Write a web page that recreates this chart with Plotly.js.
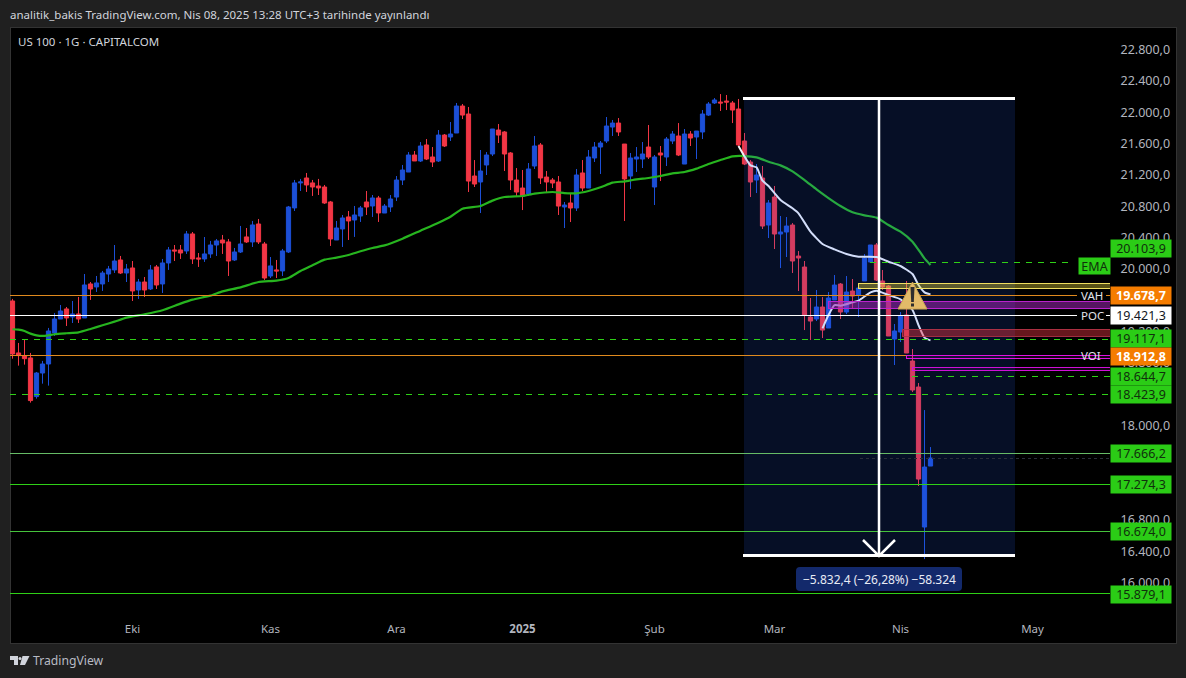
<!DOCTYPE html>
<html><head><meta charset="utf-8">
<script src="https://cdn.plot.ly/plotly-3.0.1.min.js"></script>
<style>html,body{margin:0;padding:0;background:#202020;overflow:hidden}#c{width:1186px;height:678px}</style>
</head><body><div id="c"></div>
<script>
// Daily candles (one entry per trading bar)
const opens=[19611,18948,18914,18884,18391,18692,18807,19203,19381,19509,19407,19445,19394,19828,19790,19828,19955,20007,20134,19968,20032,19751,19853,19764,20045,19828,20096,20262,20262,20249,20466,20160,20147,20211,20325,20389,20364,20134,20236,20428,20364,20593,20338,19930,20007,19994,20236,20798,21117,21180,21117,21078,21065,20874,20389,20530,20683,20644,20695,20874,20823,20925,
20733,20810,20937,21154,21256,21473,21397,21601,21448,21397,21728,21703,21754,22098,21996,21205,21129,21346,21486,21792,21767,21499,21154,21052,20976,21333,21601,21192,21154,21129,20810,20861,20797,21244,21052,21435,21575,21652,21830,21881,21613,21205,21422,21422,21575,21065,21499,21448,21652,21716,21358,21741,21703,21767,21983,22137,22149,22162,22137,22060,
21652,21384,21154,21180,20580,20937,20465,20491,20580,20184,20044,19406,19381,19534,19266,19623,19827,19470,19738,19687,19866,20108,20325,19866,19802,19125,19215,19432,18845,18513,16727,17505];
const highs=[19637,19075,19113,18948,18705,18846,19267,19458,19560,19534,19611,19662,19955,19853,19930,19994,20058,20325,20185,20083,20121,19892,19917,20070,20070,20147,20300,20325,20325,20504,20491,20223,20427,20377,20402,20453,20402,20287,20568,20542,20632,20657,20364,20172,20134,20275,20823,21155,21168,21244,21155,21168,21091,20887,20632,20708,20759,20823,20823,21014,20963,20951,
20848,20963,21205,21346,21511,21524,21639,21677,21575,21792,21741,21894,22137,22124,22086,21409,21537,21511,21805,21869,21779,21511,21307,21282,21371,21716,21626,21269,21180,21205,20874,20988,21295,21409,21537,21639,21652,21958,21920,21945,21613,21499,21575,21639,21856,21473,21588,21703,21779,21881,21805,21779,21779,22047,22149,22200,22251,22239,22162,22188,
21754,21409,21358,21333,20899,21078,20695,20682,20605,20248,20121,19649,19751,19661,19725,19942,19840,19929,19891,19814,20210,20325,20350,20006,19814,19317,19470,19866,18998,18564,18219,17747];
const lows=[18875,18786,18799,18314,18365,18556,18531,19165,19381,19292,19330,19330,19394,19624,19726,19739,19853,19968,19955,19853,19611,19637,19662,19751,19764,19713,20007,20121,20147,20211,20083,20045,20109,20160,20185,20211,19930,20121,20223,20351,20300,20338,19879,19904,19904,19930,20223,20759,21014,21002,20951,20963,20849,20313,20389,20300,20389,20428,20619,20708,20683,20619,
20733,20746,20886,21090,21256,21397,21384,21409,21320,21384,21575,21652,21754,21932,21001,21065,20733,21218,21460,21626,21269,21027,20950,20771,20950,21295,21103,20988,21052,20708,20542,20618,20759,21014,21052,21384,21231,21626,21716,21716,20631,21039,21256,21307,21422,20835,21141,21333,21613,21460,21358,21588,21422,21677,21971,22124,22035,22047,21881,21588,
21345,20937,20988,20529,20414,20274,20031,20172,19968,19738,19240,19113,19355,19138,19266,19623,19381,19444,19521,19406,19866,20108,19866,19751,19164,18794,19087,18947,18449,17250,16318,17505];
const closes=[18935,18914,18875,18340,18692,18807,19228,19381,19483,19394,19445,19381,19815,19764,19841,19968,20019,20121,19968,20019,19739,19853,19751,20007,19815,20096,20262,20249,20223,20466,20147,20147,20211,20325,20377,20351,20121,20236,20338,20364,20581,20364,19904,20058,19994,20249,20810,21117,21129,21091,21065,21053,20861,20402,20542,20670,20632,20708,20798,20810,20925,20734,
20822,20912,21154,21282,21473,21397,21588,21422,21384,21728,21588,21741,22098,21983,21141,21103,21269,21473,21805,21728,21486,21154,21001,20950,21295,21588,21180,21129,21116,20822,20835,20797,21218,21052,21448,21575,21626,21843,21881,21767,21167,21435,21448,21486,21448,21448,21473,21677,21741,21473,21741,21690,21779,21996,22124,22175,22137,22149,22047,21601,
21358,21129,21218,20567,20861,20465,20491,20567,20121,20159,19432,19355,19534,19240,19649,19814,19470,19725,19674,19776,20159,20325,19878,19789,19164,19228,19419,18947,18475,17339,17492,17607];

// Green moving average and the two white curves
const emaX=[0,1,2,3,4,5,6,7,9,11,13,15,17,19,22,25,28,30,33,35,38,41,44,46,48,50,52,54,56,58,60,62,65,68,71,73,75,78,80,82,85,87,90,92,94,96,98,100,102,104,106,108,110,112,114,116,118,120,122,124,126,128,130,132,134,136,138,140,142,144,146,148,150,152,153];
const emaY=[19250,19245,19228,19194,19173,19165,19173,19186,19199,19211,19254,19301,19347,19398,19441,19492,19577,19628,19679,19734,19785,19853,19870,19904,19994,20066,20138,20164,20198,20245,20287,20320,20406,20508,20610,20686,20788,20822,20891,20937,20950,20980,21001,20988,20984,21014,21061,21120,21137,21163,21180,21205,21239,21256,21299,21358,21409,21456,21460,21443,21388,21341,21265,21154,21035,20924,20822,20742,20703,20674,20580,20495,20367,20155,20070];
const upperX=[121,123,124,125,126,128,130,131,133,135,137,139,141,144,146,148,150,151,152,153];
const upperY=[21588,21341,21316,21146,21078,20899,20793,20729,20495,20338,20270,20210,20176,20172,20112,20057,19955,19814,19721,19695];
const lowerX=[135,136,137,138,140,141,143,144,146,148,150,151,152,153];
const lowerY=[19262,19432,19559,19551,19593,19615,19721,19742,19687,19632,19496,19304,19143,19109];

// Axes
const priceTicks=[22800,22400,22000,21600,21200,20800,20400,20000,19200,18800,18000,16800,16400,16000];
const priceTickText=["22.800,0","22.400,0","22.000,0","21.600,0","21.200,0","20.800,0","20.400,0","20.000,0","19.200,0","18.800,0","18.000,0","16.800,0","16.400,0","16.000,0"];
const monthBars=[20,43,64,85,107,127,148,170];
const monthLabels=["Eki","Kas","Ara","<b>2025</b>","Şub","Mar","Nis","May"];

// Horizontal levels and their axis labels
const levelPrices=[20103.9,19678.7,19421.3,19117.1,18912.8,18644.7,18423.9,17666.2,17274.3,16674.0,15879.1];
const levelTexts=["20.103,9","19.678,7","19.421,3","19.117,1","18.912,8","18.644,7","18.423,9","17.666,2","17.274,3","16.674,0","15.879,1"];
const zones={yellow:[19764,19840],purple:[19521,19610],red:[19164,19253],mag1:[18877,18915],mag2:[18730,18768]};
const measureTop=22190, measureBottom=16358, lastPrice=17607;

const F='"Noto Sans", sans-serif';
const W=1186,H=678,L=10,R=76,T=27,B=63,PW=W-L-R,PH=H-T-B;
const pxToBar=p=>(p-12.5)/6;
const pxToPrice=y=>16000+(584-y)/0.07838;
const xp=p=>(p-L)/PW, yp=y=>(T+PH-y)/PH;
const idx=opens.map((_,i)=>i);
const RED='#f23645',BLUE='#1c4fd6',GREEN='#2fd017',ORANGE='#e08a1e';

const hline=(price,x0px,x1px,color,width,dash)=>({type:'line',layer:'above',xref:'x',yref:'y',x0:pxToBar(x0px),x1:pxToBar(x1px),y0:price,y1:price,line:{color,width,dash:dash||'solid'}});
const zone=(r,x0px,line,fill,lw)=>({type:'rect',layer:'above',xref:'x',yref:'y',x0:pxToBar(x0px),x1:pxToBar(1110),y0:r[0],y1:r[1],fillcolor:fill,line:{color:line,width:lw||1}});
const rr=(x0,y0,x1,y1,r)=>`M ${xp(x0+r)} ${yp(y0)} L ${xp(x1-r)} ${yp(y0)} Q ${xp(x1)} ${yp(y0)} ${xp(x1)} ${yp(y0+r)} L ${xp(x1)} ${yp(y1-r)} Q ${xp(x1)} ${yp(y1)} ${xp(x1-r)} ${yp(y1)} L ${xp(x0+r)} ${yp(y1)} Q ${xp(x0)} ${yp(y1)} ${xp(x0)} ${yp(y1-r)} L ${xp(x0)} ${yp(y0+r)} Q ${xp(x0)} ${yp(y0)} ${xp(x0+r)} ${yp(y0)} Z`;

const shapes=[
 {type:'rect',layer:'below',xref:'paper',yref:'paper',x0:xp(10),x1:xp(1176),y0:yp(643),y1:yp(27),fillcolor:'#000',line:{color:'#333',width:1}},
 {type:'rect',layer:'above',xref:'x',yref:'y',x0:pxToBar(743.5),x1:pxToBar(1015),y0:measureBottom,y1:measureTop,fillcolor:'rgba(41,98,255,0.15)',line:{width:0}},
 hline(levelPrices[0],870,1073,GREEN,1,'6px,6px'),
 hline(levelPrices[1],10,1077,ORANGE,1),hline(levelPrices[1],1106,1110,ORANGE,1),
 hline(levelPrices[2],10,1077,'#ffffff',1),hline(levelPrices[2],1106,1110,'#ffffff',1),
 hline(levelPrices[3],10,1110,GREEN,1,'6px,6px'),
 hline(levelPrices[4],10,1110,ORANGE,1),
 hline(levelPrices[5],912,1110,GREEN,1,'6px,6px'),
 hline(levelPrices[6],10,1110,GREEN,1,'6px,6px'),
 hline(levelPrices[7],10,1110,'#66bb66',1),
 hline(levelPrices[8],10,1110,GREEN,1),
 hline(levelPrices[9],10,1110,'#46c23c',1),
 hline(levelPrices[10],10,1110,GREEN,1),
 hline(lastPrice,860,1110,'#2a2e39',1,'dot'),
 zone(zones.yellow,858,'#f0e060','rgba(255,235,59,0.35)'),
 zone(zones.purple,828,'#bb22cc','rgba(156,39,176,0.55)'),
 zone(zones.red,902,'rgba(178,50,70,0.9)','rgba(242,54,69,0.42)'),
 zone(zones.mag1,906,'#e012e0','rgba(156,39,176,0.1)'),
 zone(zones.mag2,912,'#d010d8','rgba(156,39,176,0.1)'),
 hline(measureTop,743,1015,'#ffffff',3),
 hline(measureBottom,743,1015,'#ffffff',3),
 {type:'line',layer:'above',xref:'x',yref:'y',x0:pxToBar(879),x1:pxToBar(879),y0:measureBottom,y1:measureTop,line:{color:'#fff',width:2.5}},
 {type:'path',layer:'above',xref:'x',yref:'y',path:`M ${pxToBar(863)} ${pxToPrice(540)} L ${pxToBar(879)} ${pxToPrice(556)} L ${pxToBar(895)} ${pxToPrice(540)}`,line:{color:'#fff',width:2.5}},
 {type:'path',layer:'above',xref:'x',yref:'y',path:`M ${pxToBar(912.5)} ${pxToPrice(282)} L ${pxToBar(927)} ${pxToPrice(309)} L ${pxToBar(898)} ${pxToPrice(309)} Z`,fillcolor:'#e3bb69',line:{color:'#c9a356',width:1}},
 {type:'path',layer:'above',xref:'x',yref:'y',path:`M ${pxToBar(910.5)} ${pxToPrice(287)} L ${pxToBar(914.5)} ${pxToPrice(287)} L ${pxToBar(913.8)} ${pxToPrice(302)} L ${pxToBar(911.2)} ${pxToPrice(302)} Z`,fillcolor:'#2e2e2e',line:{width:0}},
 {type:'path',layer:'above',xref:'x',yref:'y',path:`M ${pxToBar(911)} ${pxToPrice(303.5)} L ${pxToBar(914)} ${pxToPrice(303.5)} L ${pxToBar(914)} ${pxToPrice(306.5)} L ${pxToBar(911)} ${pxToPrice(306.5)} Z`,fillcolor:'#2e2e2e',line:{width:0}},
 {type:'path',layer:'above',xref:'paper',yref:'paper',path:rr(796,567,962,591,4),fillcolor:'#13296b',line:{width:0}},
 {type:'path',layer:'above',xref:'paper',yref:'paper',path:`M ${xp(10)} ${yp(656)} L ${xp(18)} ${yp(656)} L ${xp(18)} ${yp(665)} L ${xp(14)} ${yp(665)} L ${xp(14)} ${yp(660)} L ${xp(10)} ${yp(660)} Z`,fillcolor:'#d1d4dc',line:{width:0}},
 {type:'path',layer:'above',xref:'paper',yref:'paper',path:`M ${xp(22.5)} ${yp(656)} L ${xp(29.5)} ${yp(656)} L ${xp(25)} ${yp(665)} L ${xp(20)} ${yp(665)} Z`,fillcolor:'#d1d4dc',line:{width:0}},
 {type:'circle',layer:'above',xref:'paper',yref:'paper',x0:xp(18.5),x1:xp(21.5),y0:yp(660),y1:yp(657),fillcolor:'#d1d4dc',line:{width:0}}
];

const pxNote=(px,py,text,o)=>Object.assign({xref:'paper',yref:'paper',x:xp(px),y:yp(py),text,showarrow:false,font:{family:F,size:12,color:'#d1d4dc'},xanchor:'left',yanchor:'middle'},o||{});
const box=(cx,cy,w,h,text,bg,color,bold)=>pxNote(cx,cy,bold?`<b>${text}</b>`:text,{xanchor:'center',width:w,height:h,bgcolor:bg,align:'center',valign:'middle',borderpad:0,font:{family:F,size:12.5,color}});
const labelY=[248,295.5,315.5,339,356,376,394,453,484,531,594];
const labelBg=['#2bcc16','#f57c00','#ffffff','#2bcc16','#f57c00','#2bcc16','#2bcc16','#2bcc16','#2bcc16','#2bcc16','#2bcc16'];
const labelFg=['#10300c','#ffffff','#131722','#10300c','#ffffff','#10300c','#10300c','#10300c','#10300c','#10300c','#10300c'];

const annotations=[
 pxNote(8,15,'analitik_bakis TradingView.com, Nis 08, 2025 13:28 UTC+3 tarihinde yayınlandı',{font:{family:F,size:11.5,color:'#d1d4dc'}}),
 pxNote(16,41.5,'US 100 · 1G · CAPITALCOM',{font:{family:F,size:11.5,color:'#d1d4dc'}}),
 pxNote(31,660,'TradingView',{font:{family:F,size:12.2,color:'#b8bbc4'}}),
 pxNote(1092,295.5,'VAH',{xanchor:'center',font:{family:F,size:11.5,color:'#e0e3eb'}}),
 pxNote(1092,315.5,'POC',{xanchor:'center',font:{family:F,size:11.5,color:'#e0e3eb'}}),
 pxNote(1091,355,'VOI',{xanchor:'center',font:{family:F,size:11.5,color:'#e0e3eb'}}),
 box(1094.5,266,31,16,'EMA','#2bcc16','#10300c'),
 pxNote(879,579,'−5.832,4 (−26,28%) −58.324',{xanchor:'center',font:{family:F,size:12,color:'#e8ebf5'}})
].concat(levelTexts.map((t,i)=>box(1141,labelY[i],60,17,t,labelBg[i],labelFg[i],labelBg[i]==='#f57c00')));

const traces=[
 {type:'candlestick',x:idx,open:opens,high:highs,low:lows,close:closes,whiskerwidth:0,
  increasing:{line:{color:BLUE,width:1},fillcolor:BLUE},decreasing:{line:{color:RED,width:1},fillcolor:RED},hoverinfo:'skip',showlegend:false},
 {type:'scatter',mode:'lines',x:emaX,y:emaY,line:{color:'#27b51f',width:2.2,shape:'spline',smoothing:0.5},hoverinfo:'skip',showlegend:false},
 {type:'scatter',mode:'lines',x:upperX,y:upperY,line:{color:'#f0f2f8',width:2,shape:'spline',smoothing:0.5},hoverinfo:'skip',showlegend:false},
 {type:'scatter',mode:'lines',x:lowerX,y:lowerY,line:{color:'#f0f2f8',width:2,shape:'spline',smoothing:0.5},hoverinfo:'skip',showlegend:false}
];

const layout={
 width:W,height:H,margin:{l:L,r:R,t:T,b:B,pad:0},paper_bgcolor:'#202020',plot_bgcolor:'#000',showlegend:false,
 boxgap:0.3,boxgroupgap:0,
 font:{family:F,size:12,color:'#b2b5be'},
 xaxis:{range:[pxToBar(10),pxToBar(1110)],tickmode:'array',tickvals:monthBars,ticktext:monthLabels,showgrid:false,zeroline:false,showline:false,ticks:'outside',ticklen:3,tickcolor:'rgba(0,0,0,0)',tickfont:{family:F,size:11.5,color:'#b2b5be'},rangeslider:{visible:false},fixedrange:true},
 yaxis:{side:'right',range:[pxToPrice(615),pxToPrice(27)],tickmode:'array',tickvals:priceTicks,ticktext:priceTickText,showgrid:false,zeroline:false,showline:false,ticks:'outside',ticklen:7,tickcolor:'rgba(0,0,0,0)',tickfont:{family:F,size:12.5,color:'#b2b5be'},fixedrange:true},
 shapes,annotations
};
Plotly.newPlot('c',traces,layout,{displayModeBar:false,staticPlot:true}).then(gd=>{
 gd.querySelectorAll('.shapelayer path').forEach(p=>{
  const d=p.getAttribute('d')||'';
  const m=d.match(/^M([\d.]+),([\d.]+)L([\d.]+),([\d.]+)$/);
  if((m&&m[2]===m[4])||/H/.test(d)) p.style.shapeRendering='crispEdges';
 });
 gd.querySelectorAll('.ytick text').forEach(t=>{
  t.setAttribute('y',(+t.getAttribute('y'))-1.5);
 });
});
</script></body></html>
